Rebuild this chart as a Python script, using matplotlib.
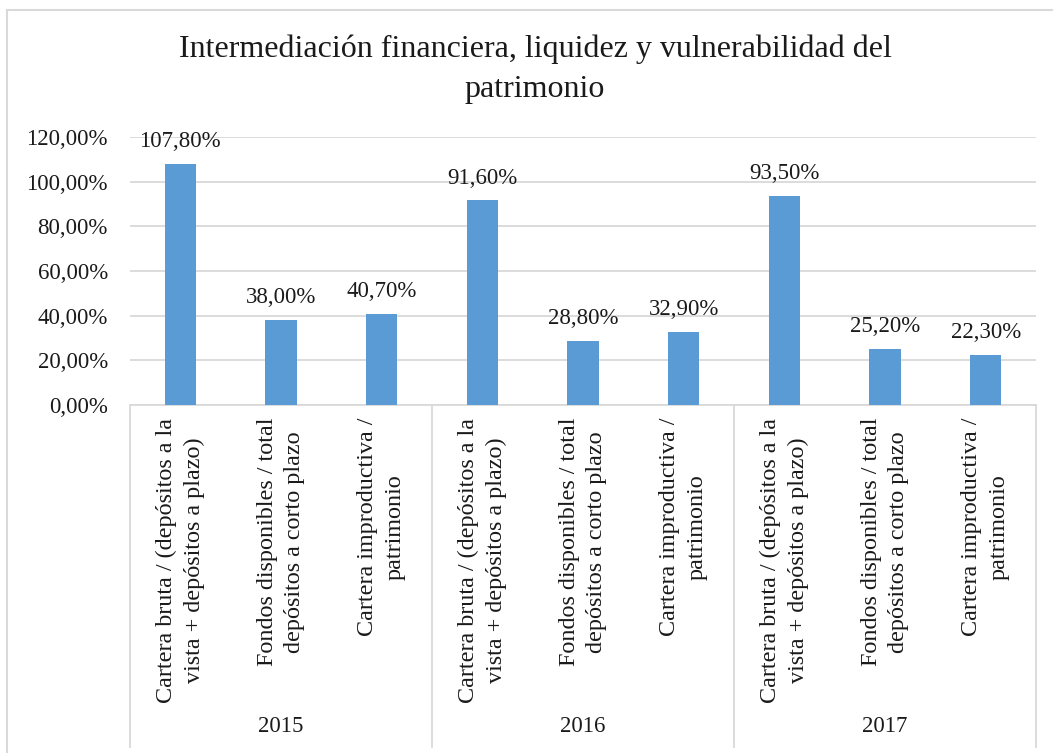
import matplotlib.pyplot as plt
from matplotlib.transforms import blended_transform_factory
from matplotlib.lines import Line2D

plt.rcParams['font.family'] = ['Liberation Serif', 'DejaVu Serif']

years = ['2015', '2016', '2017']
indicadores = ['Cartera bruta / (depósitos a la\nvista + depósitos a plazo)',
               'Fondos disponibles / total\ndepósitos a corto plazo',
               'Cartera improductiva /\npatrimonio']
valores = [107.80, 38.00, 40.70,
           91.60, 28.80, 32.90,
           93.50, 25.20, 22.30]

bar_color = '#5B9BD5'
line_color = '#D9D9D9'
text_color = '#1a1a1a'

W, H = 1053, 753
fig = plt.figure(figsize=(W / 100, H / 100), dpi=100)
ax = fig.add_axes([130 / W, 1 - 405 / H, (1036 - 130) / W, (405 - 137) / H])

x = list(range(len(valores)))
ax.bar(x, [v / 100 for v in valores], width=0.31, color=bar_color, zorder=3)

for xi, v in zip(x, valores):
    ax.annotate(('%.2f%%' % v).replace('.', ','), (xi, v / 100),
                xytext=(0, 8.5), textcoords='offset points',
                ha='center', va='bottom', fontsize=16.5, color=text_color)

ax.set_xlim(-0.5, len(valores) - 0.5)
ax.set_ylim(0, 1.2)
yt = [0, 0.2, 0.4, 0.6, 0.8, 1.0, 1.2]
ax.set_yticks(yt)
ax.set_yticklabels([('%.2f%%' % (t * 100)).replace('.', ',') for t in yt])
ax.tick_params(axis='y', length=0, pad=16, labelsize=16.5, labelcolor=text_color)
ax.set_xticks([])
ax.grid(axis='y', color=line_color, linewidth=1.3, zorder=0)
for s in ['top', 'right', 'left']:
    ax.spines[s].set_visible(False)
ax.spines['bottom'].set_color(line_color)
ax.spines['bottom'].set_linewidth(1.3)

# category labels and group dividers below the axis
tr = blended_transform_factory(ax.transData, ax.transAxes)
low = -(747 - 405) / (405 - 137)
for i in range(len(years) + 1):
    xb = i * 3 - 0.5
    ax.plot([xb, xb], [0, low], color=line_color, lw=1.3, transform=tr, clip_on=False)
for g, yr in enumerate(years):
    ax.text(g * 3 + 1, -(727 - 405) / (405 - 137), yr, transform=tr,
            ha='center', va='center', fontsize=16.5, color=text_color)
    for j, lab in enumerate(indicadores):
        ax.text(g * 3 + j, -(418 - 405) / (405 - 137), lab, transform=tr,
                rotation=90, ha='center', va='top', multialignment='center',
                fontsize=17.4, color=text_color, linespacing=1.4)

fig.text(535 / W, 1 - 69 / H,
         'Intermediación financiera, liquidez y vulnerabilidad del\npatrimonio',
         ha='center', va='center', fontsize=23, color=text_color, linespacing=1.5)

# chart border
fig.add_artist(Line2D([7 / W, 1], [1 - 10 / H, 1 - 10 / H], color=line_color, lw=1.5))
fig.add_artist(Line2D([7 / W, 7 / W], [0, 1 - 10 / H], color=line_color, lw=1.5))

fig.savefig('out.png', dpi=100)
